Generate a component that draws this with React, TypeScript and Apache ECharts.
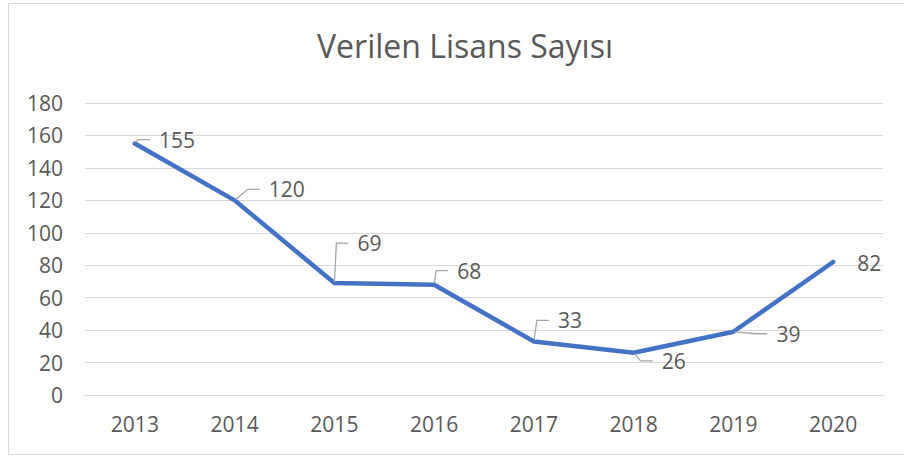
import React, { useEffect, useRef } from "react";
import * as echarts from "echarts";

const TITLE = "Verilen Lisans Sayısı";
const YEARS = ["2013", "2014", "2015", "2016", "2017", "2018", "2019", "2020"];
const LICENSES = [155, 120, 69, 68, 33, 26, 39, 82];
const Y_TICKS = { min: 0, max: 180, interval: 20 };

// label offsets (px) from each point: [dx to label text left edge, dy to label middle]
const LABEL_OFFSETS: [number, number][] = [
  [24, -4],
  [34, -11],
  [23, -40],
  [23, -14],
  [24, -21],
  [28, 8],
  [43, 2],
  [24, 1],
];
const SHOW_LEADER = [true, true, true, true, true, true, true, false];
// extra right padding on a label box so its leader attaches on the left side
const EXTRA_RIGHT_PAD = [0, 0, 70, 0, 40, 0, 0, 0];
const LABEL_PAD = 9;

const FONT = "'Open Sans', 'Noto Sans', sans-serif";
const TEXT = "#595959";

export default function App() {
  const ref = useRef<HTMLDivElement>(null);
  useEffect(() => {
    if (!ref.current) return;
    const chart = echarts.init(ref.current, null, { renderer: "svg" });
    chart.setOption({
      animation: false,
      backgroundColor: "#ffffff",
      textStyle: { fontFamily: FONT },
      title: {
        text: TITLE,
        left: 312,
        top: 24,
        textStyle: { fontFamily: FONT, fontSize: 32, fontWeight: "normal", color: TEXT },
      },
      graphic: [
        {
          type: "rect",
          shape: { x: 8.5, y: 3.5, width: 910, height: 451 },
          style: { fill: "none", stroke: "#D9D9D9", lineWidth: 1 },
          silent: true,
        },
      ],
      grid: { left: 85, right: 21, top: 103, bottom: 62 },
      xAxis: {
        type: "category",
        data: YEARS,
        boundaryGap: true,
        axisLine: { lineStyle: { color: "#D9D9D9", width: 1 } },
        axisTick: { show: false },
        axisLabel: { color: TEXT, fontSize: 21, fontFamily: FONT, margin: 18 },
      },
      yAxis: {
        type: "value",
        min: Y_TICKS.min,
        max: Y_TICKS.max,
        interval: Y_TICKS.interval,
        axisLine: { show: false },
        axisTick: { show: false },
        splitLine: { lineStyle: { color: "#D9D9D9", width: 1 } },
        axisLabel: { color: TEXT, fontSize: 21, fontFamily: FONT, margin: 22 },
      },
      series: [
        {
          type: "line",
          data: LICENSES.map((v, i) => ({
            value: v,
            labelLine: { show: SHOW_LEADER[i] },
            label: { padding: [0, EXTRA_RIGHT_PAD[i], 0, LABEL_PAD] },
          })),
          symbol: "circle",
          symbolSize: 2,
          showSymbol: true,
          itemStyle: { color: "#4472C4" },
          lineStyle: { color: "#4472C4", width: 4.5, cap: "round", join: "round" },
          label: {
            show: true,
            position: "right",
            color: TEXT,
            fontSize: 21,
            fontFamily: FONT,
            padding: [0, 0, 0, LABEL_PAD],
            backgroundColor: "rgba(255,255,255,0.01)",
          },
          labelLine: {
            show: true,
            length2: 12,
            lineStyle: { color: "#A6A6A6", width: 1.3 },
          },
          labelLayout: (params: any) => {
            const r = params.rect;
            const cx = r.x + r.width / 2;
            const cy = r.y + r.height / 2;
            const [dx, dy] = LABEL_OFFSETS[params.dataIndex] || [10, 0];
            return { x: cx + dx - LABEL_PAD, y: cy + dy, align: "left", verticalAlign: "middle" };
          },
        },
      ],
    });
    return () => chart.dispose();
  }, []);
  return (
    <div
      ref={ref}
      style={{ position: "absolute", left: 0, top: 0, width: 904, height: 457 }}
    />
  );
}
